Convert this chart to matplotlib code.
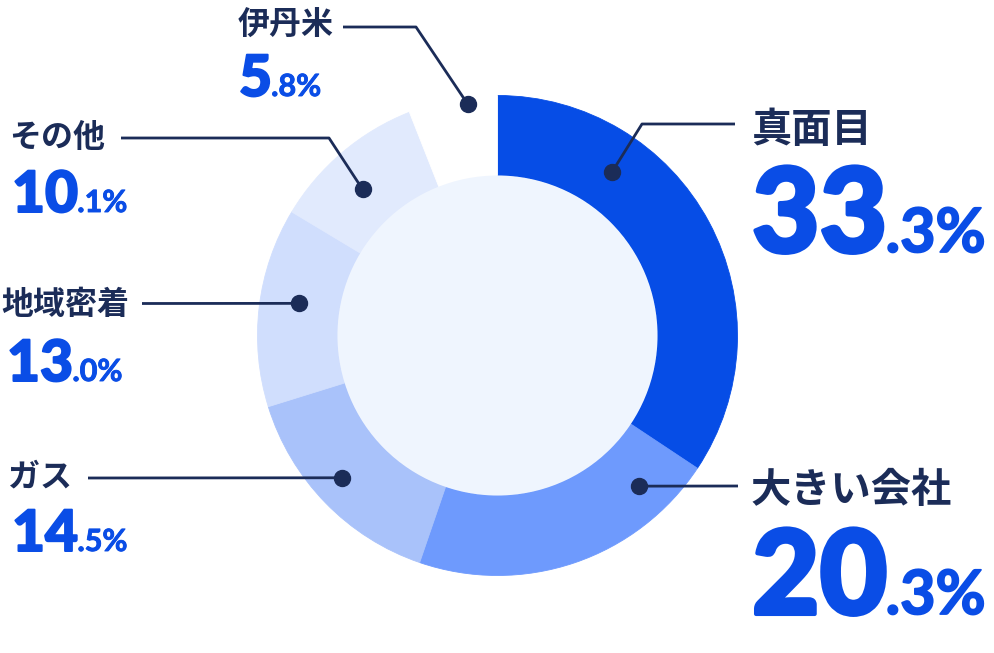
import matplotlib.pyplot as plt
import matplotlib.patheffects as pe
from matplotlib.patches import Circle
import numpy as np

plt.rcParams['font.family'] = ['Noto Sans CJK JP', 'DejaVu Sans']

# data
labels = ['真面目', '大きい会社', 'ガス', '地域密着', 'その他', '伊丹米']
shares = [33.3, 20.3, 14.5, 13.0, 10.1, 5.8]
colors = ['#064de6', '#6e9afd', '#a9c2fa', '#d0defd', '#e1eafd', '#ffffff']

NAVY = '#1b2c58'
BLUE = '#0a4de6'
CENTER = '#eff5fe'

W, H = 994, 653
fig = plt.figure(figsize=(W / 100, H / 100), dpi=100)
ax = fig.add_axes([0, 0, 1, 1])


def Y(py):
    # reference pixel row -> data y
    return H - py


cx, cy = 497.5, Y(335.5)
R, ring = 240, 80

wedges, _ = ax.pie(shares, colors=colors, radius=R, center=(cx, cy), startangle=90,
                   counterclock=False, frame=True,
                   wedgeprops=dict(width=ring, linewidth=0.6))
for w in wedges:
    w.set_edgecolor(w.get_facecolor())
ax.add_patch(Circle((cx, cy), R - ring, color=CENTER, lw=0, zorder=3))
ax.set_xlim(0, W)
ax.set_ylim(0, H)
ax.set_aspect('equal')
ax.axis('off')

# annotation layout: label (x, y centre), number (x, baseline), elbow path, dot (angle cw from top, radius)
layout = {
    '真面目':   dict(lab=(751, 130), num=(752, 252), big=84, small=44, lsize=29,
                   path=[(735, 124), (642, 124)], dot=(35.0, 200)),
    '大きい会社': dict(lab=(751, 490), num=(752, 614), big=84, small=44, lsize=29,
                   path=[(738, 486)], dot=(136.7, 207)),
    'ガス':     dict(lab=(8, 477), num=(12, 551), big=41, small=22, lsize=23,
                   path=[(88, 478)], dot=(227.6, 211)),
    '地域密着':  dict(lab=(1, 305), num=(7, 381), big=41, small=22, lsize=23,
                   path=[(142, 303.5)], dot=(279.2, 201)),
    'その他':   dict(lab=(9, 138), num=(12, 212), big=41, small=22, lsize=23,
                   path=[(121, 138), (329, 138)], dot=(317.3, 199)),
    '伊丹米':   dict(lab=(238, 26), num=(239, 96), big=41, small=22, lsize=23,
                   path=[(343, 27), (416, 27)], dot=(352.7, 233)),
}

renderer = fig.canvas.get_renderer()
num_font = ['Lato', 'DejaVu Sans']

for name, val in zip(labels, shares):
    L = layout[name]
    a = np.deg2rad(L['dot'][0])
    dx = cx + L['dot'][1] * np.sin(a)
    dy = cy + L['dot'][1] * np.cos(a)
    xs = [p[0] for p in L['path']] + [dx]
    ys = [Y(p[1]) for p in L['path']] + [dy]
    ax.plot(xs, ys, color=NAVY, lw=2, zorder=5, solid_capstyle='butt')
    ax.plot(dx, dy, 'o', color=NAVY, ms=11.5, zorder=6)

    ax.text(L['lab'][0], Y(L['lab'][1]), name, color=NAVY, fontsize=L['lsize'],
            fontweight='bold', ha='left', va='center', zorder=6)

    whole, frac = f'{val:.1f}'.split('.')
    heavy = [pe.withStroke(linewidth=L['big'] * 0.035, foreground=BLUE)]
    t = ax.text(L['num'][0], Y(L['num'][1]), whole, color=BLUE, fontsize=L['big'],
                fontweight='black', family=num_font, ha='left', va='baseline',
                zorder=6, path_effects=heavy)
    bb = t.get_window_extent(renderer=renderer)
    ax.text(bb.x1 - L['big'] * 0.02, Y(L['num'][1]), '.' + frac + '%', color=BLUE,
            fontsize=L['small'], fontweight='bold', family=num_font,
            ha='left', va='baseline', zorder=6,
            path_effects=[pe.withStroke(linewidth=L['small'] * 0.03, foreground=BLUE)])

fig.savefig('out.png', dpi=100)
